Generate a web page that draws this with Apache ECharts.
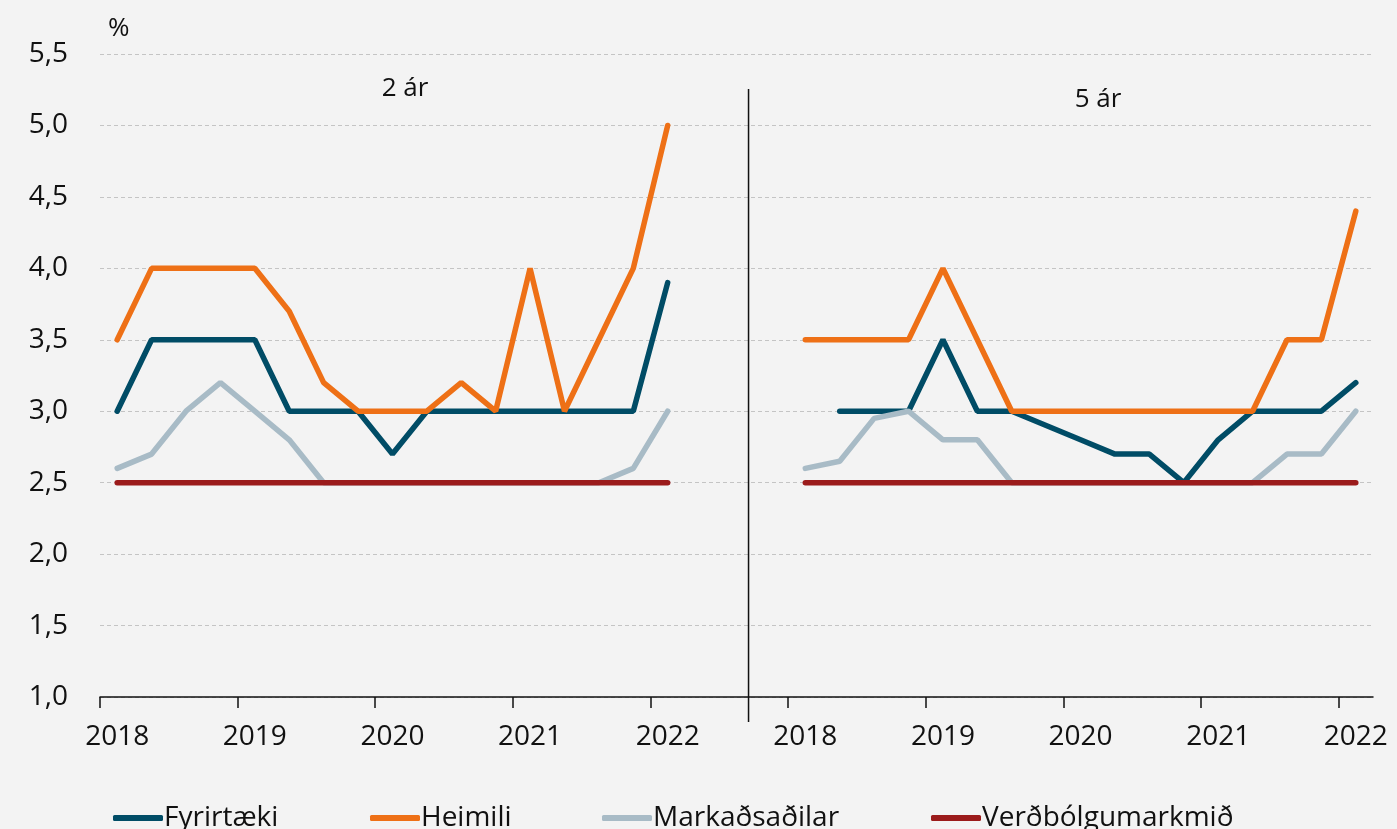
<!DOCTYPE html>
<html>
<head>
<meta charset="utf-8">
<script src="https://cdn.jsdelivr.net/npm/echarts@6/dist/echarts.min.js"></script>
<style>
  html, body { margin: 0; padding: 0; background: #f3f3f3; }
  #chart { width: 1397px; height: 829px; }
</style>
</head>
<body>
<div id="chart"></div>
<script>
// ársfjórðungar, sama röð í báðum hlutum
const quarters = [
  '2018K1', '2018K2', '2018K3', '2018K4',
  '2019K1', '2019K2', '2019K3', '2019K4',
  '2020K1', '2020K2', '2020K3', '2020K4',
  '2021K1', '2021K2', '2021K3', '2021K4',
  '2022K1',
];
const gapCategories = ['', ' ', '  ']; // bil milli hlutanna
const panelTitles = ['2 ár', '5 ár'];
const seriesNames = ['Fyrirtæki', 'Heimili', 'Markaðsaðilar', 'Verðbólgumarkmið'];
const seriesColors = ['#004c66', '#ee7016', '#a8bbc6', '#9b1b1b'];

// 2 ár
const fyrirtaeki2 = [3.0, 3.5, 3.5, 3.5, 3.5, 3.0, 3.0, 3.0, 2.7, 3.0, 3.0, 3.0, 3.0, 3.0, 3.0, 3.0, 3.9];
const heimili2 = [3.5, 4.0, 4.0, 4.0, 4.0, 3.7, 3.2, 3.0, 3.0, 3.0, 3.2, 3.0, 4.0, 3.0, 3.5, 4.0, 5.0];
const markadsadilar2 = [2.6, 2.7, 3.0, 3.2, 3.0, 2.8, 2.5, 2.5, 2.5, 2.5, 2.5, 2.5, 2.5, 2.5, 2.5, 2.6, 3.0];
const verdbolga2 = [2.5, 2.5, 2.5, 2.5, 2.5, 2.5, 2.5, 2.5, 2.5, 2.5, 2.5, 2.5, 2.5, 2.5, 2.5, 2.5, 2.5];

// 5 ár
const fyrirtaeki5 = [null, 3.0, 3.0, 3.0, 3.5, 3.0, 3.0, 2.9, 2.8, 2.7, 2.7, 2.5, 2.8, 3.0, 3.0, 3.0, 3.2];
const heimili5 = [3.5, 3.5, 3.5, 3.5, 4.0, 3.5, 3.0, 3.0, 3.0, 3.0, 3.0, 3.0, 3.0, 3.0, 3.5, 3.5, 4.4];
const markadsadilar5 = [2.6, 2.65, 2.95, 3.0, 2.8, 2.8, 2.5, 2.5, 2.5, 2.5, 2.5, 2.5, 2.5, 2.5, 2.7, 2.7, 3.0];
const verdbolga5 = [2.5, 2.5, 2.5, 2.5, 2.5, 2.5, 2.5, 2.5, 2.5, 2.5, 2.5, 2.5, 2.5, 2.5, 2.5, 2.5, 2.5];

const yTicks = { min: 1.0, max: 5.5, step: 0.5 };
const yearTickPositions = [0, 4, 8, 12, 16, 20, 24, 28, 32, 36]; // skil milli flokka
const dividerAt = 18.85;

const FONT = '"Open Sans", "Noto Sans", sans-serif';

const categories = [
  ...quarters.map((q) => panelTitles[0] + ' ' + q),
  ...gapCategories,
  ...quarters.map((q) => panelTitles[1] + ' ' + q),
];
const gapNulls = gapCategories.map(() => null);
const join = (a, b) => [...a, ...gapNulls, ...b];

const seriesData = [
  join(fyrirtaeki2, fyrirtaeki5),
  join(heimili2, heimili5),
  join(markadsadilar2, markadsadilar5),
  join(verdbolga2, verdbolga5),
];

const chart = echarts.init(document.getElementById('chart'), null, { renderer: 'canvas' });

const legendLefts = [108, 365, 597, 926];

const option = {
  backgroundColor: '#f3f3f3',
  animation: false,
  textStyle: { fontFamily: FONT },
  grid: { left: 100, right: 24, top: 54, bottom: 132, containLabel: false },
  legend: seriesNames.map((name, i) => ({
    data: [name],
    left: legendLefts[i],
    top: 799,
    icon: 'roundRect',
    itemWidth: 50,
    itemHeight: 6,
    itemGap: 0,
    selectedMode: false,
    textStyle: { fontFamily: FONT, fontSize: 28, color: '#111', padding: [0, 0, 0, -4] },
  })),
  xAxis: [
    {
      type: 'category',
      data: categories,
      boundaryGap: true,
      axisLine: { lineStyle: { color: '#111', width: 1.5 } },
      axisTick: { show: false },
      axisLabel: {
        interval: 0,
        margin: 26,
        fontSize: 28,
        color: '#111',
        fontFamily: FONT,
        formatter: (v) => (v.endsWith('K1') ? v.slice(-6, -2) : ''),
      },
      splitLine: { show: false },
    },
    {
      type: 'value',
      position: 'bottom',
      min: 0,
      max: categories.length,
      axisLine: { show: false, onZero: false },
      axisTick: {
        show: true,
        length: 11,
        customValues: yearTickPositions,
        lineStyle: { color: '#111', width: 1.5 },
      },
      axisLabel: { show: false },
      splitLine: { show: false },
    },
  ],
  yAxis: {
    type: 'value',
    min: yTicks.min,
    max: yTicks.max,
    interval: yTicks.step,
    name: '%',
    nameLocation: 'end',
    nameGap: 12,
    nameTextStyle: { fontSize: 26, color: '#111', align: 'left', padding: [0, 0, 0, 8], fontFamily: FONT },
    axisLine: { show: false },
    axisTick: { show: false },
    axisLabel: {
      margin: 32,
      fontSize: 28,
      color: '#111',
      fontFamily: FONT,
      formatter: (v) => v.toFixed(1).replace('.', ','),
    },
    splitLine: { lineStyle: { color: '#c4c4c4', width: 1, type: [4, 3] } },
  },
  series: seriesNames.map((name, i) => ({
    name,
    type: 'line',
    xAxisIndex: 0,
    data: seriesData[i],
    symbol: 'none',
    connectNulls: false,
    color: seriesColors[i],
    lineStyle: { color: seriesColors[i], width: 5.5, cap: 'round' },
    emphasis: { disabled: true },
    z: 2 + i,
  })),
};

chart.setOption(option);

// skillína og fyrirsagnir hlutanna
const dividerX = chart.convertToPixel({ xAxisIndex: 1 }, dividerAt);
chart.setOption({
  graphic: [
    {
      type: 'line',
      shape: { x1: dividerX, y1: 89, x2: dividerX, y2: 722 },
      style: { stroke: '#111', lineWidth: 1.5 },
      z: 10,
    },
    {
      type: 'text',
      x: 405,
      y: 89,
      style: { text: panelTitles[0], fontSize: 26, fontFamily: FONT, fill: '#111', textAlign: 'center', textVerticalAlign: 'middle' },
    },
    {
      type: 'text',
      x: 1098,
      y: 100,
      style: { text: panelTitles[1], fontSize: 26, fontFamily: FONT, fill: '#111', textAlign: 'center', textVerticalAlign: 'middle' },
    },
  ],
});
</script>
</body>
</html>
